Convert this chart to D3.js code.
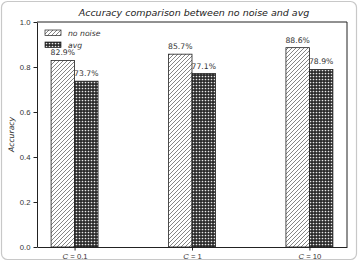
<!DOCTYPE html>
<html>
<head>
<meta charset="utf-8">
<style>
    body { margin: 0; background: white; }
    svg { display: block; font-family: "DejaVu Sans", sans-serif; }
    .axis text { font-size: 7.7px; fill: #333; }
    .axis line, .axis path { stroke: #222; }
</style>
</head>
<body>
<svg width="359" height="262"></svg>
<script src="https://cdnjs.cloudflare.com/ajax/libs/d3/7.8.5/d3.min.js"></script>
<script>
    // chart values
    let categories = ["0.1", "1", "10"]
    let noNoise = [0.829, 0.857, 0.886]
    let avg = [0.737, 0.771, 0.789]
    let yTicks = [0.0, 0.2, 0.4, 0.6, 0.8, 1.0]
    let seriesNames = ["no noise", "avg"]

    let svg = d3.select("svg")
    let margin = { top: 22, right: 12, bottom: 15, left: 37 }
    let width = 359, height = 262
    let barW = 0.2

    // outer rounded frame
    svg.append("rect")
        .attr("x", 1.5).attr("y", 1.5)
        .attr("width", 355).attr("height", 258)
        .attr("rx", 6)
        .style("fill", "white")
        .style("stroke", "#c8c8c8")
        .style("stroke-width", 1.2)

    let defs = svg.append("defs")
    let hatch = defs.append("pattern")
        .attr("id", "hatch")
        .attr("patternUnits", "userSpaceOnUse")
        .attr("width", 4).attr("height", 4)
    hatch.append("rect").attr("width", 4).attr("height", 4).style("fill", "white")
    hatch.append("path")
        .attr("d", "M-1,1 l2,-2 M0,4 l4,-4 M3,5 l2,-2")
        .style("stroke", "#333").style("stroke-width", 0.6)

    let dots = defs.append("pattern")
        .attr("id", "dots")
        .attr("patternUnits", "userSpaceOnUse")
        .attr("width", 3).attr("height", 3)
    dots.append("rect").attr("width", 3).attr("height", 3).style("fill", "#2a2a2a")
    dots.append("circle").attr("cx", 1.5).attr("cy", 1.5).attr("r", 0.85).style("fill", "#e8e8e8")

    let x = d3.scaleLinear()
        .domain([-0.32, 2.32])
        .range([margin.left, width - margin.right])

    let y = d3.scaleLinear()
        .domain([0, 1])
        .range([height - margin.bottom, margin.top])

    // bars
    svg.append("g").selectAll("rect")
        .data(noNoise)
        .join("rect")
        .attr("x", (d, i) => x(i - barW))
        .attr("width", x(barW) - x(0))
        .attr("y", d => y(d))
        .attr("height", d => y(0) - y(d))
        .style("fill", "url(#hatch)")
        .style("stroke", "#222").style("stroke-width", 0.8)

    svg.append("g").selectAll("rect")
        .data(avg)
        .join("rect")
        .attr("x", (d, i) => x(i))
        .attr("width", x(barW) - x(0))
        .attr("y", d => y(d))
        .attr("height", d => y(0) - y(d))
        .style("fill", "url(#dots)")
        .style("stroke", "#222").style("stroke-width", 0.8)

    // value labels
    svg.append("g").selectAll("text")
        .data(noNoise)
        .join("text")
        .attr("x", (d, i) => x(i - barW / 2))
        .attr("y", d => y(d) - 5)
        .attr("text-anchor", "middle")
        .style("font-size", "7.7px").style("fill", "#333")
        .text(d => (d * 100).toFixed(1) + "%")

    svg.append("g").selectAll("text")
        .data(avg)
        .join("text")
        .attr("x", (d, i) => x(i + barW / 2))
        .attr("y", d => y(d) - 5)
        .attr("text-anchor", "middle")
        .style("font-size", "7.7px").style("fill", "#333")
        .text(d => (d * 100).toFixed(1) + "%")

    // axes
    svg.append("g")
        .attr("class", "axis")
        .attr("transform", `translate(${margin.left},0)`)
        .call(d3.axisLeft(y).tickValues(yTicks).tickFormat(d3.format(".1f")).tickSize(3.5).tickSizeOuter(0).tickPadding(3))

    let xAxis = svg.append("g")
        .attr("class", "axis")
        .attr("transform", `translate(0,${y(0)})`)
        .call(d3.axisBottom(x).tickValues([0, 1, 2]).tickSize(3.5).tickSizeOuter(0).tickFormat(""))
    xAxis.selectAll(".tick").append("text")
        .attr("y", 12)
        .attr("text-anchor", "middle")
        .html((d, i) => `<tspan font-style="italic">C</tspan> = ${categories[i]}`)

    // top and right spines
    svg.append("path")
        .attr("d", `M${x(-0.32)},${y(1)}H${x(2.32)}V${y(0)}`)
        .style("fill", "none").style("stroke", "#222").style("stroke-width", 1)

    // title and y label
    svg.append("text")
        .attr("x", (x(-0.32) + x(2.32)) / 2 + 2)
        .attr("y", 16)
        .attr("text-anchor", "middle")
        .style("font-size", "9.5px").style("font-style", "italic").style("fill", "#222")
        .text("Accuracy comparison between no noise and avg")

    svg.append("text")
        .attr("transform", `translate(14,${(y(0) + y(1)) / 2}) rotate(-90)`)
        .attr("text-anchor", "middle")
        .style("font-size", "7.7px").style("font-style", "italic").style("fill", "#333")
        .text("Accuracy")

    // legend
    let legend = svg.append("g").attr("transform", "translate(45,30)")
    let fills = ["url(#hatch)", "url(#dots)"]
    seriesNames.forEach(function (name, i) {
        legend.append("rect")
            .attr("x", 0).attr("y", i * 12)
            .attr("width", 16).attr("height", 5.5)
            .style("fill", fills[i]).style("stroke", "#222").style("stroke-width", 0.7)
        legend.append("text")
            .attr("x", 23).attr("y", i * 12 + 5.5)
            .style("font-size", "7.7px").style("font-style", "italic").style("fill", "#333")
            .text(name)
    })
</script>
</body>
</html>
